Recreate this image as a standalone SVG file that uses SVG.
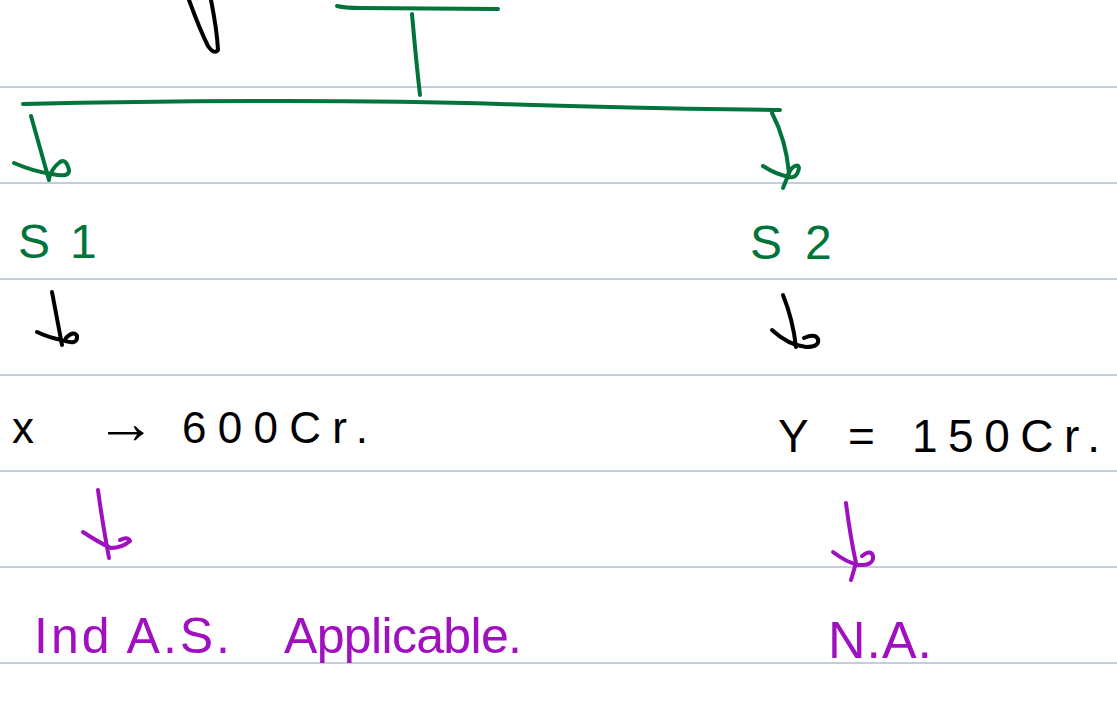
<svg xmlns="http://www.w3.org/2000/svg" width="1117" height="702" viewBox="0 0 1117 702">
<style>
.rule{stroke:#aebcd2;stroke-width:1.6}
.g{stroke:#00743a;fill:none;stroke-width:4;stroke-linecap:round;stroke-linejoin:round}
.k{stroke:#000;fill:none;stroke-width:4;stroke-linecap:round;stroke-linejoin:round}
.p{stroke:#a010c0;fill:none;stroke-width:4;stroke-linecap:round;stroke-linejoin:round}
.t{font-family:"Liberation Sans",Arial,sans-serif}
.tg{fill:#00743a}.tk{fill:#000}.tp{fill:#a010c0}
</style>
<rect width="1117" height="702" fill="#fff"/>
<g id="rules">
<line class="rule" x1="0" y1="87" x2="1117" y2="87"/>
<line class="rule" x1="0" y1="183" x2="1117" y2="183"/>
<line class="rule" x1="0" y1="279" x2="1117" y2="279"/>
<line class="rule" x1="0" y1="375" x2="1117" y2="375"/>
<line class="rule" x1="0" y1="471" x2="1117" y2="471"/>
<line class="rule" x1="0" y1="567" x2="1117" y2="567"/>
<line class="rule" x1="0" y1="663" x2="1117" y2="663"/>
</g>
<g id="top-shape">
<path class="k" d="M189,0 Q200,30 208,46 Q214,55 218,50 Q217,30 211,0"/>
<path class="g" d="M337,6 Q345,8 360,8 L498,9"/>
</g>
<g id="connectors">
<path class="g" d="M412,14 Q416,60 420,95"/>
<path class="g" d="M23,104 C150,101 350,99 500,104 S700,109 780,110"/>
<path class="g" d="M31,116 L49,180"/>
<path class="g" d="M14,163 Q35,172 52,174 Q70,178 69,170 Q66,158 60,162 Q52,168 49,178"/>
<path class="g" d="M772,113 Q786,140 789,173 L783,188"/>
<path class="g" d="M763,166 Q775,174 789,177 Q797,179 799,168 Q798,163 792,168 Q788,173 787,178"/>
<path class="k" d="M52,292 L62,345"/>
<path class="k" d="M37,332 Q50,338 62,340 Q78,346 77,336 Q74,330 66,338"/>
<path class="k" d="M783,295 Q793,320 796,347"/>
<path class="k" d="M772,330 Q788,345 806,347 Q820,347 818,339 Q815,333 804,338"/>
<path class="p" d="M98,490 Q102,520 109,558"/>
<path class="p" d="M83,532 Q98,542 111,548 Q122,548 130,541 Q128,536 120,540"/>
<path class="p" d="M846,503 Q850,535 856,563 L851,580"/>
<path class="p" d="M833,552 Q846,562 858,565 Q874,566 873,556 Q871,549 862,556"/>
</g>
<g id="S1"><text class="t tg" y="258" font-size="48"><tspan x="18">S</tspan><tspan x="70">1</tspan></text></g>
<g id="S2"><text class="t tg" y="259" font-size="48"><tspan x="750">S</tspan><tspan x="805">2</tspan></text></g>
<g id="x600"><text class="t tk" y="443" font-size="44"><tspan x="12">x</tspan><tspan x="96" font-size="60">→</tspan><tspan x="182" textLength="186" lengthAdjust="spacing">600Cr.</tspan></text></g>
<g id="y150"><text class="t tk" y="452" font-size="46"><tspan x="778">Y</tspan><tspan x="848">=</tspan><tspan x="912" textLength="188" lengthAdjust="spacing">150Cr.</tspan></text></g>
<g id="indas"><text class="t tp" y="653" font-size="50"><tspan x="34" textLength="196" lengthAdjust="spacing">Ind A.S.</tspan><tspan x="284" textLength="238" lengthAdjust="spacing">Applicable.</tspan></text></g>
<g id="na"><text class="t tp" x="828" y="658" font-size="52" textLength="104" lengthAdjust="spacing">N.A.</text></g>
</svg>
